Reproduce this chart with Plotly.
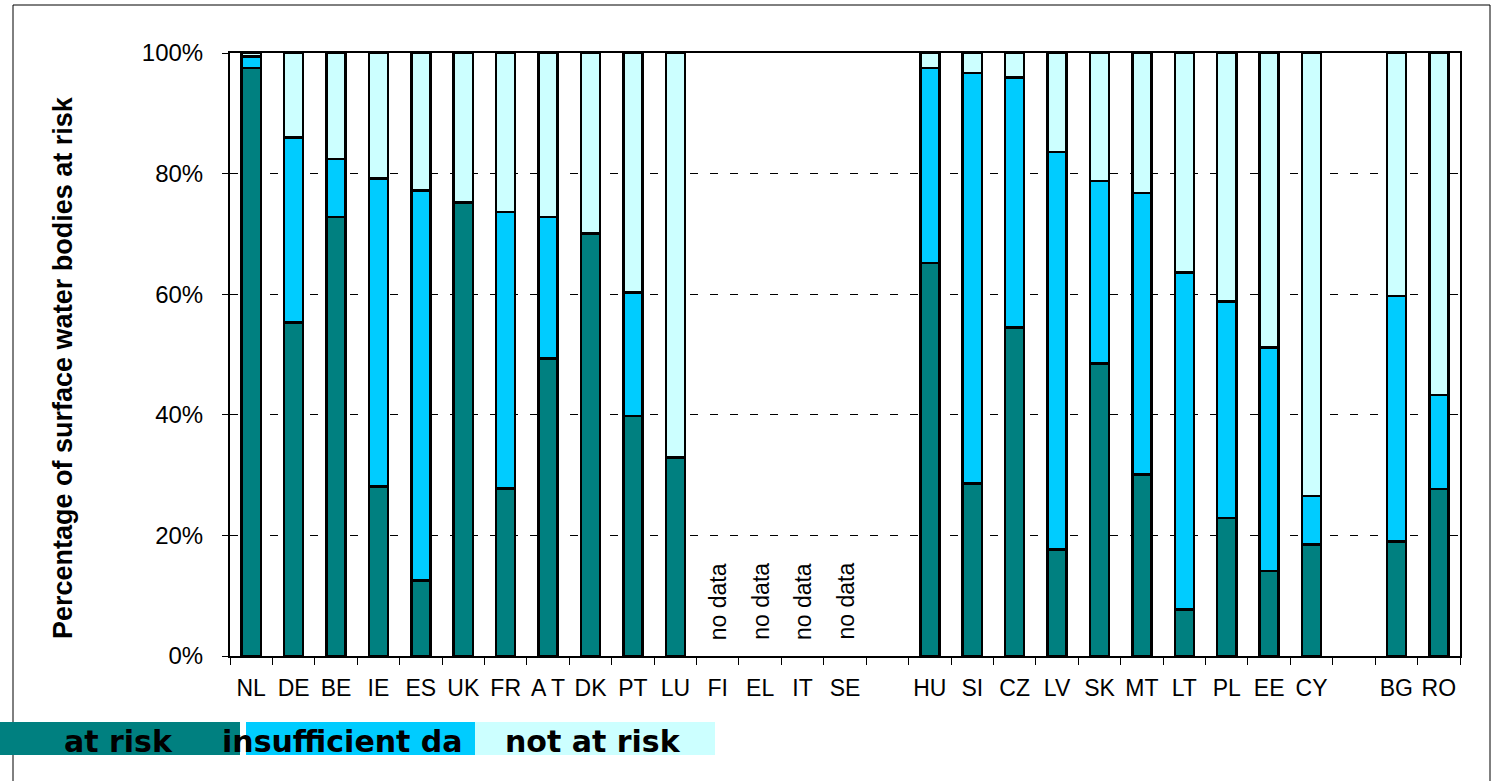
import plotly.graph_objects as go

countries = ["NL", "DE", "BE", "IE", "ES", "UK", "FR", "AT", "DK", "PT", "LU",
             "FI", "EL", "IT", "SE", " ", "HU", "SI", "CZ", "LV", "SK", "MT",
             "LT", "PL", "EE", "CY", "  ", "BG", "RO"]
tick_labels = ["NL", "DE", "BE", "IE", "ES", "UK", "FR", "A T", "DK", "PT", "LU",
               "FI", "EL", "IT", "SE", "", "HU", "SI", "CZ", "LV", "SK", "MT",
               "LT", "PL", "EE", "CY", "", "BG", "RO"]
at_risk = [97.5, 55.3, 72.8, 28.1, 12.5, 75.2, 27.8, 49.3, 70.1, 39.8, 32.9,
           None, None, None, None, None, 65.2, 28.6, 54.5, 17.7, 48.5, 30.1,
           7.7, 22.9, 14.1, 18.5, None, 19.0, 27.7]
insufficient = [1.9, 30.7, 9.6, 51.1, 64.7, 0, 45.8, 23.5, 0, 20.5, 0,
                None, None, None, None, None, 32.3, 68.1, 41.4, 65.9, 30.3, 46.7,
                55.9, 35.9, 37.1, 8.0, None, 40.7, 15.6]
not_at_risk = [0.6, 14.0, 17.6, 20.8, 22.8, 24.8, 26.4, 27.2, 29.9, 39.7, 67.1,
               None, None, None, None, None, 2.5, 3.3, 4.1, 16.4, 21.2, 23.2,
               36.4, 41.2, 48.8, 73.5, None, 40.3, 56.7]
no_data = ["FI", "EL", "IT", "SE"]
series_names = ["at risk", "insufficient da", "not at risk"]
colors = ["#008080", "#00CCFF", "#CCFFFF"]

W, H = 1499, 781
L, R, T, B = 230, 1460, 53, 656


def px(x):
    return (x - L) / (R - L)


def py(y):
    return (B - y) / (B - T)


fig = go.Figure()
for name, vals, col in zip(series_names, [at_risk, insufficient, not_at_risk], colors):
    fig.add_trace(go.Bar(
        x=countries, y=vals, name=name, width=0.45,
        marker=dict(color=col, line=dict(color="black", width=2.5)),
        showlegend=False,
    ))

annotations = []
for c in no_data:
    annotations.append(dict(
        x=c, y=0, xref="x", yref="y", text="no data", showarrow=False,
        textangle=-90, xanchor="center", yanchor="bottom", yshift=14,
        font=dict(family="Liberation Sans, Arial", size=23, color="black"),
    ))

annotations.append(dict(
    x=px(63), y=py(368), xref="paper", yref="paper",
    text="<b>Percentage of surface water bodies at risk</b>", showarrow=False,
    textangle=-90, xanchor="center", yanchor="middle",
    font=dict(family="Liberation Sans, Arial", size=27, color="black"),
))

shapes = []
# outer frame
shapes.append(dict(type="rect", xref="paper", yref="paper",
                   x0=px(13), x1=px(1490), y0=py(800), y1=py(5),
                   line=dict(color="black", width=1), fillcolor="rgba(0,0,0,0)",
                   layer="below"))
# legend blocks
legend_boxes = [(0, 240), (246, 475), (475, 715)]
legend_text_x = [62, 220, 503]
for (x0, x1), col, name, tx in zip(legend_boxes, colors, series_names, legend_text_x):
    shapes.append(dict(type="rect", xref="paper", yref="paper",
                       x0=px(x0), x1=px(x1), y0=py(755), y1=py(722),
                       line=dict(width=0), fillcolor=col))
    annotations.append(dict(
        x=px(tx), y=py(741), xref="paper", yref="paper",
        text="<b>" + name + "</b>", showarrow=False,
        xanchor="left", yanchor="middle",
        font=dict(family="DejaVu Sans", size=30, color="black"),
    ))

fig.update_layout(
    width=W, height=H,
    margin=dict(l=L, r=W - R, t=T, b=H - B),
    barmode="stack",
    paper_bgcolor="white", plot_bgcolor="white",
    annotations=annotations, shapes=shapes,
    xaxis=dict(
        type="category", tickmode="array", tickvals=countries, ticktext=tick_labels,
        ticks="outside", tickson="boundaries", ticklen=7, tickcolor="black",
        tickangle=0,
        showline=True, linecolor="black", linewidth=2, mirror=True,
        showgrid=False,
        tickfont=dict(family="Liberation Sans, Arial", size=23, color="black"),
        ticklabelstandoff=10,
        range=[-0.5, len(countries) - 0.5],
    ),
    yaxis=dict(
        range=[0, 100], dtick=20, ticksuffix="%",
        ticks="outside", ticklen=6, tickcolor="black",
        showline=True, linecolor="black", linewidth=2, mirror=True,
        showgrid=True, gridcolor="black", gridwidth=1, griddash="8px,12px",
        zeroline=False,
        tickfont=dict(family="Liberation Sans, Arial", size=24, color="black"),
        ticklabelstandoff=14,
    ),
)

fig.write_html(
    "out.html",
    config={"displayModeBar": False},
    post_script="document.body.style.margin='0px';document.body.style.overflow='hidden';",
)
